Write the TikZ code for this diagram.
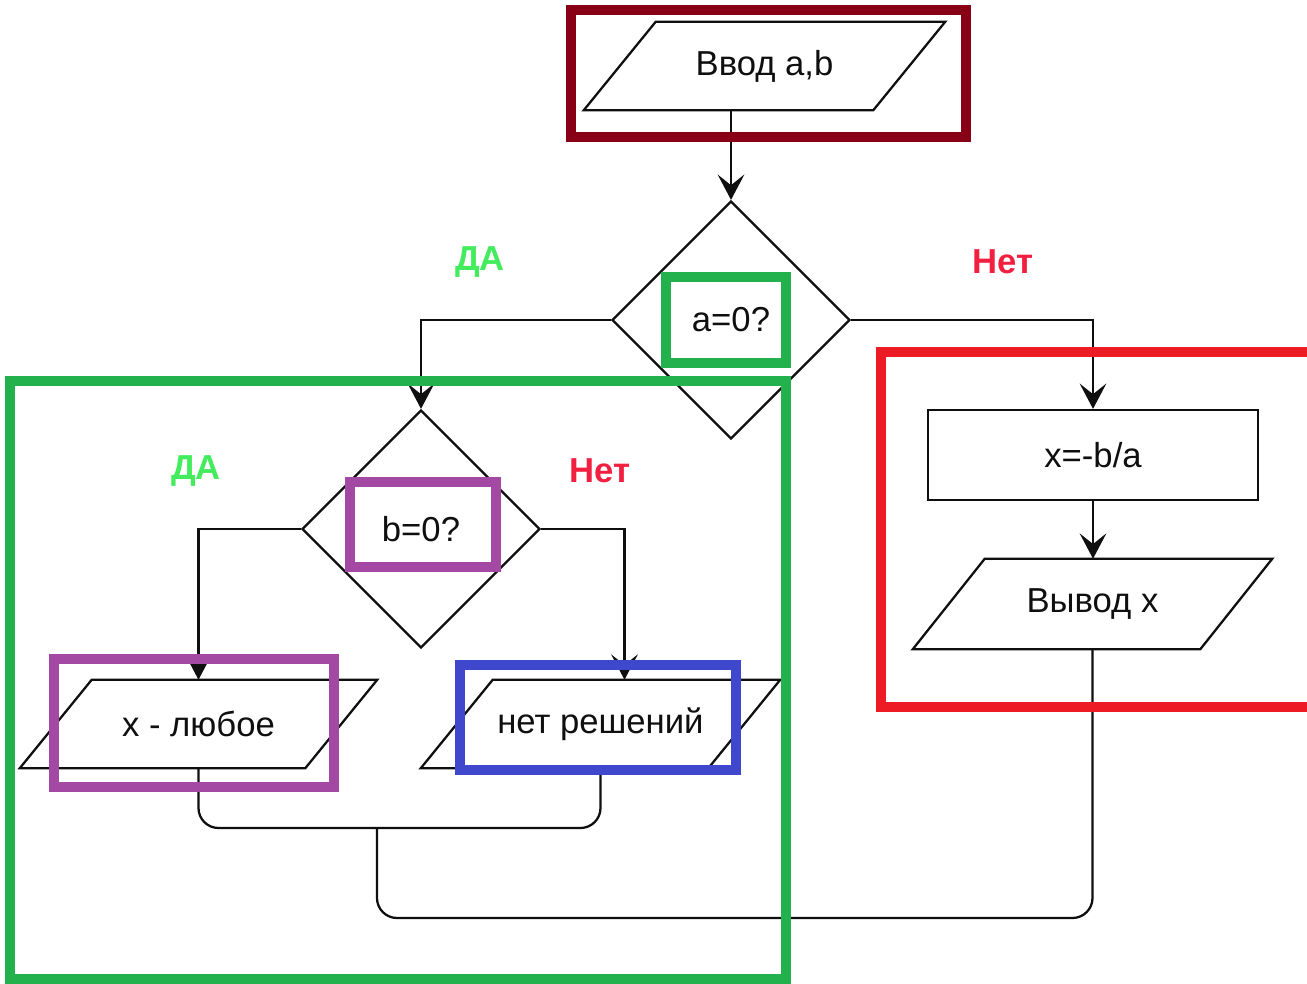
\documentclass[tikz,border=0pt]{standalone}
\usepackage{fontspec}
\setmainfont{Liberation Sans}
\usetikzlibrary{shapes.geometric,arrows.meta,calc}

\definecolor{ink}{RGB}{15,15,15}
\definecolor{darkred}{RGB}{136,0,21}
\definecolor{framegreen}{RGB}{34,177,76}
\definecolor{framepurple}{RGB}{163,73,164}
\definecolor{frameblue}{RGB}{63,72,204}
\definecolor{framered}{RGB}{237,28,36}
\definecolor{yescol}{RGB}{66,236,92}
\definecolor{nocol}{RGB}{242,32,64}

% parallelogram outline around an input/output node
\newcommand\ioframe[1]{%
  \draw[flow] (#1.south west) -- ([xshift=54pt]#1.north west)
    -- (#1.north east) -- ([xshift=-54pt]#1.south east) -- cycle;}

\begin{document}
\begin{tikzpicture}[x=0.75pt,y=-0.75pt,
  flow/.style={draw=ink, line width=1.7pt, line join=miter},
  arrow/.style={flow, -{Stealth[length=19pt,width=20pt,inset=8pt]}},
  txt/.style={font=\fontsize{26}{30}\selectfont, text=ink},
  iobox/.style={txt, inner sep=0pt, minimum height=66pt},
  decision/.style={txt, diamond, draw=ink, line width=1.7pt, inner sep=0pt,
    minimum width=178.5pt, minimum height=178.5pt},
  process/.style={txt, rectangle, draw=ink, line width=1.7pt, inner sep=0pt,
    minimum width=247.5pt, minimum height=67.5pt},
  answer/.style={font=\bfseries\fontsize{26}{30}\selectfont},
  frame/.style={line width=7.5pt, line join=miter}]

\useasboundingbox (0,0) rectangle (1307,984);
\clip (0,0) rectangle (1307,984);
\fill[white] (0,0) rectangle (1307,984);

% blocks
\node[iobox, minimum width=270.75pt] (inp) at (764.5,66) {Ввод a,b};
\ioframe{inp}
\node[decision] (d1) at (731,320) {a=0?};
\node[decision] (d2) at (421,529) {b=0?};
\node[iobox, minimum width=267.75pt] (any) at (198.5,724) {x - любое};
\ioframe{any}
\node[iobox, minimum width=269.25pt] (nosol) at (600.5,724) {нет решений};
\ioframe{nosol}
\node[process] (calc) at (1093,455) {x=-b/a};
\node[iobox, minimum width=269.25pt, minimum height=67.5pt] (out) at (1092.5,604) {Вывод x};
\ioframe{out}

% branch labels
\node[answer, text=yescol] (yes1) at (480,262) {ДА};
\node[answer, text=nocol] (no1) at (1003,262) {Нет};
\node[answer, text=yescol] (yes2) at (196,471) {ДА};
\node[answer, text=nocol] (no2) at (600,471) {Нет};

% connectors
\draw[arrow] (inp.south -| d1.north) -- (d1.north);
\draw[arrow] (d1.west) -| (d2.north);
\draw[arrow] (d1.east) -| (calc.north);
\draw[arrow] (d2.west) -| (any.north);
\draw[arrow] (d2.east) -| ([xshift=18pt]nosol.north);
\draw[arrow] (calc.south) -- (calc.south |- out.north);

\coordinate (join) at (377,828);
\coordinate (base) at (377,918);
\draw[flow, rounded corners=15pt] (any.south) |- (nosol.south |- join) -- (nosol.south);
\draw[flow, rounded corners=15pt] (out.south) |- (base) -- (join);

% highlight frames
\draw[frame, draw=darkred] (571,10) rectangle (966,137);
\draw[frame, draw=framegreen] (666,277) rectangle (786,363);
\draw[frame, draw=framegreen] (10,381) rectangle (786,979);
\draw[frame, draw=framepurple] (350,482) rectangle (496,567);
\draw[frame, draw=framepurple] (54,659) rectangle (334,787);
\draw[frame, draw=frameblue] (460,665) rectangle (736,770);
\draw[frame, draw=framered] (881,352) rectangle (1330,707);
\end{tikzpicture}
\end{document}
